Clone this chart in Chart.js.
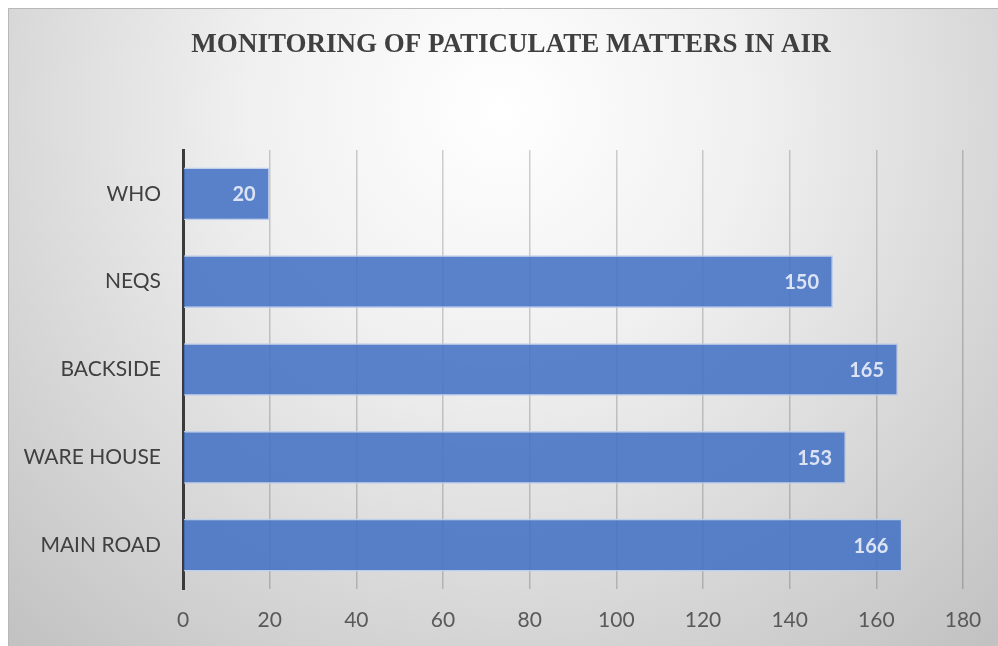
<!DOCTYPE html>
<html>
<head>
<meta charset="utf-8">
<script src="https://cdn.jsdelivr.net/npm/chart.js@4.4.1/dist/chart.umd.min.js"></script>
<style>
    html, body { margin: 0; padding: 0; background: #ffffff; overflow: hidden; }
    #wrap { width: 998px; height: 646px; }
    canvas { display: block; }
</style>
</head>
<body>
<div id="wrap"><canvas id="pmChart" width="998" height="646"></canvas></div>
<script>
// Monitoring of particulate matters in air
const chartTitle = 'MONITORING OF PATICULATE MATTERS IN AIR';
const categories = ['WHO', 'NEQS', 'BACKSIDE', 'WARE HOUSE', 'MAIN ROAD'];
const pmValues = [20, 150, 165, 153, 166];
const xMin = 0;
const xMax = 180;
const xStep = 20;

// Radial grey background + frame + title, drawn before everything else
const backgroundPlugin = {
    id: 'panelBackground',
    beforeDraw(chart) {
        const ctx = chart.ctx;
        const w = chart.width, h = chart.height;
        ctx.save();
        ctx.fillStyle = '#ffffff';
        ctx.fillRect(0, 0, w, h);
        const grad = ctx.createRadialGradient(500, 110, 0, 500, 110, 720);
        grad.addColorStop(0, '#ffffff');
        grad.addColorStop(0.35, '#f0f0f0');
        grad.addColorStop(1, '#c2c2c2');
        ctx.fillStyle = grad;
        ctx.fillRect(8, 8, w - 8, h - 8);
        ctx.strokeStyle = '#b8b8b8';
        ctx.lineWidth = 1;
        ctx.beginPath();
        ctx.moveTo(8.5, h);
        ctx.lineTo(8.5, 8.5);
        ctx.lineTo(w, 8.5);
        ctx.stroke();

        // title (slightly condensed serif, like the original)
        ctx.translate(511, 45);
        ctx.scale(0.965, 1);
        ctx.font = 'bold 28px "Liberation Serif", "Times New Roman", serif';
        ctx.fillStyle = '#404040';
        ctx.textAlign = 'center';
        ctx.textBaseline = 'middle';
        ctx.fillText(chartTitle, 0, 0);
        ctx.restore();
    }
};

// Value labels inside the end of each bar
const valueLabelPlugin = {
    id: 'valueLabels',
    afterDatasetsDraw(chart) {
        const ctx = chart.ctx;
        const meta = chart.getDatasetMeta(0);
        ctx.save();
        ctx.font = 'bold 20px Lato, "Open Sans", sans-serif';
        ctx.fillStyle = '#dce4f4';
        ctx.textAlign = 'right';
        ctx.textBaseline = 'middle';
        meta.data.forEach((bar, i) => {
            ctx.fillText(String(pmValues[i]), bar.x - 14, bar.y + 1);
        });
        ctx.restore();
    }
};

const ctx = document.getElementById('pmChart').getContext('2d');

const chart = new Chart(ctx, {
    type: 'bar',
    data: {
        labels: categories,
        datasets: [{
            data: pmValues,
            backgroundColor: 'rgba(68, 114, 196, 0.88)',
            borderColor: 'rgba(190, 206, 236, 0.95)',
            borderWidth: 1.5,
            barPercentage: 0.6,
            categoryPercentage: 1.0
        }]
    },
    options: {
        indexAxis: 'y',
        responsive: false,
        animation: false,
        layout: {
            padding: { left: 0, right: 35, top: 150, bottom: 0 }
        },
        plugins: {
            legend: { display: false },
            tooltip: { enabled: false },
            title: { display: false }
        },
        scales: {
            x: {
                min: xMin,
                max: xMax,
                ticks: {
                    stepSize: xStep,
                    color: '#595959',
                    font: { family: 'Lato, "Open Sans", sans-serif', size: 21 },
                    padding: 19
                },
                grid: {
                    color: 'rgba(0, 0, 0, 0.18)',
                    lineWidth: 1.5,
                    drawTicks: false
                },
                border: { display: false },
                afterFit(scale) {
                    scale.height = 57;
                    scale.paddingLeft = 0;
                    scale.paddingRight = 0;
                }
            },
            y: {
                ticks: {
                    color: '#404040',
                    font: { family: 'Lato, "Open Sans", sans-serif', size: 21 },
                    padding: 22
                },
                grid: { display: false, drawTicks: false },
                border: { display: true, color: '#3a3a3a', width: 3 },
                afterFit(scale) { scale.width = 183; }
            }
        }
    },
    plugins: [backgroundPlugin, valueLabelPlugin]
});
</script>
</body>
</html>
